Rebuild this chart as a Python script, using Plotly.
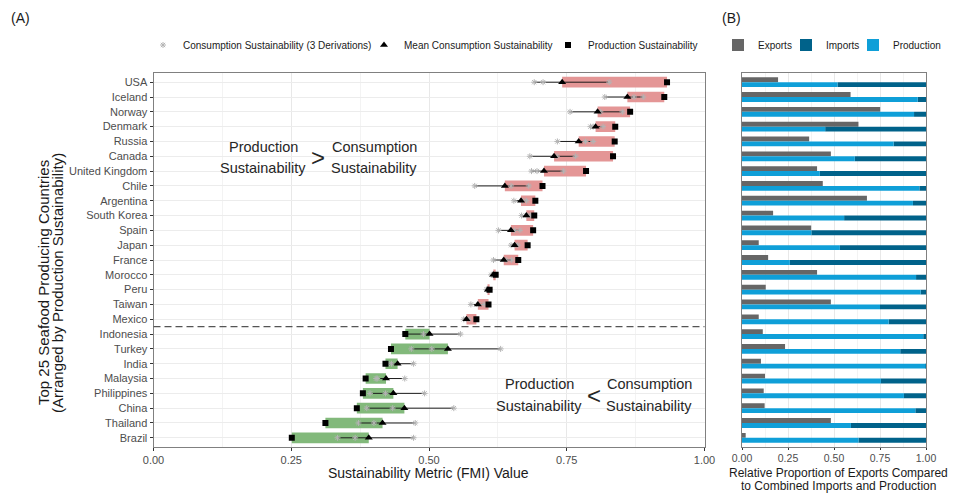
import numpy as np
import plotly.graph_objects as go

# ---------------- data ----------------
countries = ["USA", "Iceland", "Norway", "Denmark", "Russia", "Canada", "United Kingdom",
             "Chile", "Argentina", "South Korea", "Spain", "Japan", "France", "Morocco",
             "Peru", "Taiwan", "Mexico", "Indonesia", "Turkey", "India", "Malaysia",
             "Philippines", "China", "Thailand", "Brazil"]

production_sustainability = [0.932, 0.927, 0.865, 0.838, 0.837, 0.834, 0.785, 0.706, 0.693,
                             0.691, 0.689, 0.679, 0.662, 0.621, 0.610, 0.608, 0.586, 0.457,
                             0.431, 0.421, 0.385, 0.380, 0.369, 0.312, 0.251]

consumption_deriv_1 = [0.691, 0.819, 0.756, 0.793, 0.733, 0.683, 0.686, 0.583, 0.654, 0.668,
                       0.626, 0.649, 0.617, 0.613, 0.604, 0.576, 0.563, 0.456, 0.468, 0.425,
                       0.404, 0.393, 0.387, 0.372, 0.334]
consumption_deriv_2 = [0.707, 0.872, 0.811, 0.798, 0.784, 0.732, 0.696, 0.649, 0.670, 0.678,
                       0.655, 0.656, 0.640, 0.617, 0.607, 0.590, 0.568, 0.490, 0.505, 0.432,
                       0.406, 0.421, 0.434, 0.400, 0.366]
consumption_deriv_3 = [0.827, 0.889, 0.851, 0.816, 0.798, 0.766, 0.744, 0.681, 0.677, 0.684,
                       0.665, 0.661, 0.650, 0.620, 0.610, 0.600, 0.573, 0.557, 0.630, 0.472,
                       0.456, 0.492, 0.545, 0.475, 0.472]

export_share = [0.196, 0.590, 0.751, 0.633, 0.365, 0.483, 0.408, 0.439, 0.679, 0.169,
                0.376, 0.091, 0.142, 0.408, 0.129, 0.483, 0.091, 0.113, 0.234, 0.103,
                0.125, 0.118, 0.123, 0.483, 0.020]
production_share = [0.519, 0.955, 0.935, 0.452, 0.824, 0.613, 0.423, 0.964, 0.929, 0.555,
                    0.377, 0.532, 0.260, 0.946, 0.971, 0.750, 0.797, 0.985, 0.860, 0.998,
                    0.755, 0.880, 0.942, 0.592, 0.633]
import_share = [0.481, 0.045, 0.065, 0.548, 0.176, 0.387, 0.577, 0.036, 0.071, 0.445,
                0.623, 0.468, 0.740, 0.054, 0.029, 0.250, 0.203, 0.015, 0.140, 0.002,
                0.245, 0.120, 0.058, 0.408, 0.367]

x_ticks = [0.0, 0.25, 0.5, 0.75, 1.0]

# ---------------- helpers ----------------
# the page body adds an 8px margin, so the figure is made 8px smaller and
# all target pixel positions (window coordinates) are shifted by it
OFF = 8
W, H = 963 - OFF, 493 - OFF
FONT = "Arial, 'Liberation Sans', sans-serif"


def px(x):
    return (x - OFF) / W


def py(y):
    return 1 - (y - OFF) / H


RED = "#e49696"
GREEN = "#82b97b"
GRAY_PT = "#b4b4b4"
EXP_C = "#666666"
IMP_C = "#00628a"
PROD_C = "#0f9fd8"

n = len(countries)
ypos = np.arange(n, 0, -1)
prod = np.array(production_sustainability)
cons = np.vstack([consumption_deriv_1, consumption_deriv_2, consumption_deriv_3])
mean_cons = cons.mean(axis=0)
cmin, cmax = cons.min(axis=0), cons.max(axis=0)
above = prod > mean_cons
bar_colors = [RED if a else GREEN for a in above]
split_y = n - int(above.sum()) + 0.5

fig = go.Figure()

# ---- panel A ----
fig.add_trace(go.Bar(orientation="h", y=ypos, x=np.abs(prod - mean_cons),
                     base=np.minimum(prod, mean_cons), width=0.72,
                     marker=dict(color=bar_colors, line=dict(width=0)),
                     showlegend=False, hoverinfo="skip", xaxis="x", yaxis="y"))
lx, ly = [], []
for i in range(n):
    lx += [cmin[i], cmax[i], None]
    ly += [ypos[i], ypos[i], None]
fig.add_trace(go.Scatter(x=lx, y=ly, mode="lines", line=dict(color="#1a1a1a", width=1),
                         showlegend=False, xaxis="x", yaxis="y"))
fig.add_trace(go.Scatter(x=cons.flatten(), y=np.tile(ypos, 3), mode="markers",
                         marker=dict(symbol="asterisk-open", size=5, color=GRAY_PT,
                                     line=dict(color=GRAY_PT, width=1)),
                         name="Consumption Sustainability (3 Derivations)",
                         legend="legend", xaxis="x", yaxis="y"))
fig.add_trace(go.Scatter(x=mean_cons, y=ypos, mode="markers",
                         marker=dict(symbol="triangle-up", size=7, color="black"),
                         name="Mean Consumption Sustainability",
                         legend="legend2", xaxis="x", yaxis="y"))
fig.add_trace(go.Scatter(x=prod, y=ypos, mode="markers",
                         marker=dict(symbol="square", size=6, color="black"),
                         name="Production Sustainability",
                         legend="legend3", xaxis="x", yaxis="y"))

# ---- panel B ----
BW = 0.33
fig.add_trace(go.Bar(orientation="h", y=ypos, x=export_share, base=0, width=BW, offset=0,
                     marker=dict(color=EXP_C, line=dict(width=0)), name="Exports",
                     legend="legend4", xaxis="x2", yaxis="y2"))
fig.add_trace(go.Bar(orientation="h", y=ypos, x=import_share, base=production_share,
                     width=BW, offset=-BW, marker=dict(color=IMP_C, line=dict(width=0)),
                     name="Imports", legend="legend5", xaxis="x2", yaxis="y2"))
fig.add_trace(go.Bar(orientation="h", y=ypos, x=production_share, base=0, width=BW,
                     offset=-BW, marker=dict(color=PROD_C, line=dict(width=0)),
                     name="Production", legend="legend6", xaxis="x2", yaxis="y2"))

# ---- axes ----
ydom = [py(446.7), py(73.3)]
axis_common = dict(showline=True, linecolor="#808080", linewidth=1, mirror=True,
                   ticks="outside", tickcolor="#333333", tickwidth=1,
                   automargin=False, zeroline=False)
tick_font = dict(size=11, color="#4d4d4d", family=FONT)
fig.update_layout(
    xaxis=dict(domain=[px(153.5), px(704.5)], range=[0, 1], tickvals=x_ticks,
               tickformat=".2f", showgrid=True, gridcolor="#e8e8e8", gridwidth=1,
               minor=dict(dtick=0.125, tick0=0, showgrid=True, gridcolor="#f3f3f3",
                          gridwidth=1, ticks=""),
               ticklen=3, tickfont=tick_font, anchor="y", **axis_common),
    yaxis=dict(domain=ydom, range=[0.4, n + 0.6], tickvals=list(ypos), ticktext=countries,
               showgrid=True, gridcolor="#ececec", gridwidth=1, ticklen=3,
               tickfont=tick_font, anchor="x", **axis_common),
    xaxis2=dict(domain=[px(742), px(926)], range=[0, 1], tickvals=x_ticks,
                tickformat=".2f", showgrid=True, gridcolor="#e8e8e8", gridwidth=1,
                minor=dict(dtick=0.125, tick0=0, showgrid=True, gridcolor="#f3f3f3",
                           gridwidth=1, ticks=""),
                ticklen=2, tickfont=dict(size=10.5, color="#4d4d4d", family=FONT),
                anchor="y2", **axis_common),
    yaxis2=dict(domain=ydom, range=[0.4, n + 0.6], showticklabels=False, showgrid=False,
                anchor="x2", showline=True, linecolor="#808080", linewidth=1, mirror=True,
                ticks="", zeroline=False, automargin=False),
)

# ---- legends ----
def leg(text_start):
    return dict(x=px(text_start - 40), y=py(45), xanchor="left", yanchor="middle",
                orientation="h", bgcolor="rgba(0,0,0,0)", borderwidth=0,
                font=dict(size=10, color="#1a1a1a", family=FONT))


fig.update_layout(legend=leg(183), legend2=leg(404), legend3=leg(588),
                  legend4=leg(758), legend5=leg(826), legend6=leg(893))

# ---- annotations ----
ann = []


def add_text(text, x, y, size, angle=0, color="#1a1a1a", pad=1):
    ann.append(dict(text=text, x=px(x), y=py(y), xref="paper", yref="paper",
                    showarrow=False, xanchor="center", yanchor="middle", textangle=angle,
                    borderpad=pad,
                    font=dict(size=size, color=color, family=FONT)))


add_text("(A)", 20, 18, 14)
add_text("(B)", 731, 18, 14)
add_text("Top 25 Seafood Producing Countries", 43, 283, 15, -90)
add_text("(Arranged by Production Sustainability)", 57, 283, 15, -90)
add_text("Sustainability Metric (FMI) Value", 428, 473, 14)
add_text("Relative Proportion of Exports Compared", 838, 472.5, 12, pad=0)
add_text("to Combined Imports and Production", 838, 486, 12, pad=0)
add_text("Production", 263, 147, 14.5, color="#262626")
add_text("Sustainability", 263, 168, 14.5, color="#262626")
add_text(">", 318, 157, 24, color="#262626")
add_text("Consumption", 374, 147, 14.5, color="#262626")
add_text("Sustainability", 374, 168, 14.5, color="#262626")
add_text("Production", 539, 384, 14.5, color="#262626")
add_text("Sustainability", 539, 406, 14.5, color="#262626")
add_text("<", 594, 395, 24, color="#262626")
add_text("Consumption", 649, 384, 14.5, color="#262626")
add_text("Sustainability", 649, 406, 14.5, color="#262626")

fig.update_layout(
    annotations=ann,
    shapes=[dict(type="line", xref="x domain", yref="y", x0=0, x1=1, y0=split_y, y1=split_y,
                 line=dict(color="#555555", width=1.3, dash="7px,4px"))],
    width=W, height=H, margin=dict(l=0, r=0, t=0, b=0, autoexpand=False),
    paper_bgcolor="white", plot_bgcolor="white", barmode="overlay",
    font=dict(family=FONT, color="#1a1a1a"),
)

fig.write_html("out.html")
